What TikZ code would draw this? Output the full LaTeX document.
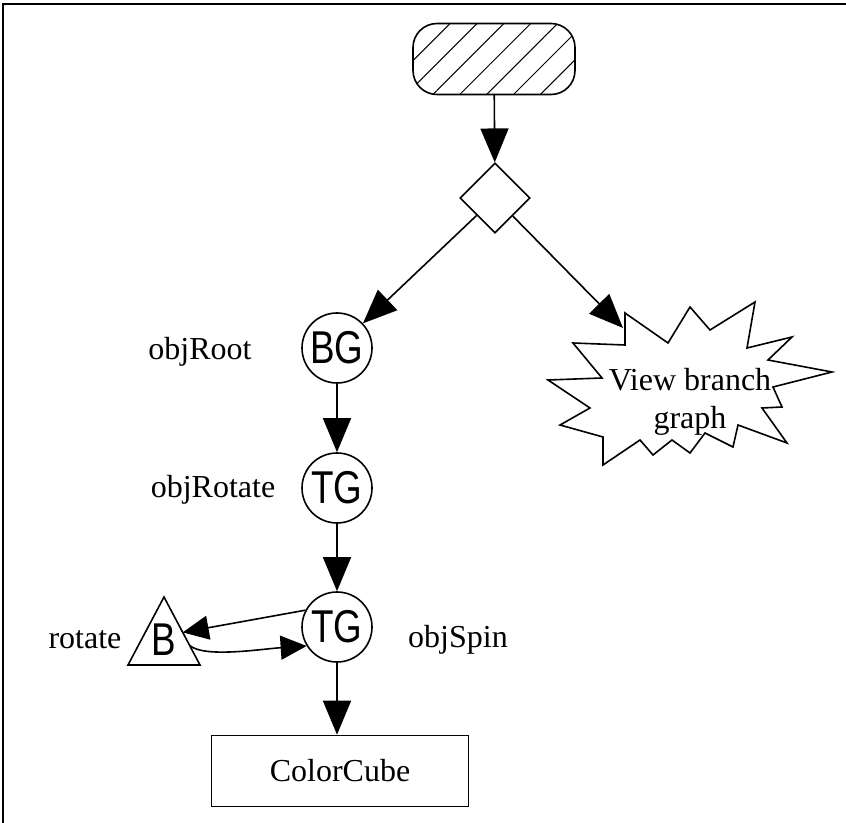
\documentclass[tikz,border=0pt]{standalone}
\usepackage{fontspec}
\setmainfont{Liberation Serif}
\setsansfont{Liberation Sans}
\usetikzlibrary{arrows.meta, shapes.geometric, patterns.meta, calc}

\newcommand{\sqz}[1]{\scalebox{0.8}[1]{#1}}

\tikzset{
  lbl/.style={font=\fontsize{16}{19}\selectfont},
  grp/.style={circle, draw, minimum size=35pt, inner sep=0pt, font=\fontsize{23}{25}\sffamily},
  startbox/.style={rectangle, draw, rounded corners=12pt, minimum width=81pt, minimum height=35.5pt,
    pattern={Lines[angle=45, distance=9.5pt, line width=0.5pt]}},
  decision/.style={diamond, draw, minimum width=35pt, minimum height=35pt, inner sep=0pt},
  shapebox/.style={rectangle, draw, minimum width=128.5pt, minimum height=35.5pt, font=\fontsize{16}{19}\selectfont},
  arr/.style={-{Triangle[length=17pt, width=14pt]}},
  smallarr/.style={-{Triangle[length=13pt, width=12pt]}}
}

\begin{document}
\begin{tikzpicture}[x=0.5pt, y=-0.5pt, line width=0.8pt]
  \useasboundingbox (0,0) rectangle (846,823);
  \draw (3,823) -- (3,4) -- (846,4);

  % scene graph
  \node[startbox] (start) at (494,59) {};
  \node[decision] (dec) at (495,198) {};
  \node[grp] (root) at (337,348) {\sqz{BG}};
  \node[grp] (rot) at (337,488) {\sqz{TG}};
  \node[grp] (spin) at (337,627) {\sqz{TG}};
  \node[shapebox] (cube) at (340,771) {ColorCube};

  \node[lbl] (rootlbl) at (200,352) {objRoot};
  \node[lbl] (rotlbl) at (213,490) {objRotate};
  \node[lbl] (spinlbl) at (458,640) {objSpin};
  \node[lbl] (behlbl) at (85,640) {rotate};

  % behavior triangle
  \coordinate (btop) at (164,597);
  \coordinate (bleft) at (128,665);
  \coordinate (bright) at (200,665);
  \draw (btop) -- (bleft) -- (bright) -- cycle;
  \node[font=\fontsize{23}{25}\sffamily] (beh) at (164,640) {\sqz{B}};
  \coordinate (bin) at ($(btop)!0.52!(bright)$);
  \coordinate (bout) at ($(btop)!0.71!(bright)$);

  % view branch
  \draw (625,313) -- (668,343) -- (690,307) -- (710,330) -- (755,302) -- (747,348)
    -- (792,337) -- (768,360) -- (832,372) -- (773,387) -- (782,407) -- (762,408)
    -- (787,443) -- (738,425) -- (733,447) -- (705,433) -- (690,453) -- (672,440)
    -- (653,455) -- (640,440) -- (603,465) -- (603,437) -- (560,425) -- (590,408)
    -- (548,380) -- (602,378) -- (573,343) -- (625,345) -- cycle;
  \node[lbl, align=center] (view) at (690,402) {View branch\\graph};
  \coordinate (vhit) at (623,328);

  \draw[arr] (start) -- (dec);
  \draw[arr] (dec) -- (root);
  \draw[arr] (dec) -- (vhit);
  \draw[arr] (root) -- (rot);
  \draw[arr] (rot) -- (spin);
  \draw[arr] (spin) -- (spin |- cube.north);
  \draw[smallarr] (spin.152) -- (bin);
  \draw[smallarr] (bout) .. controls +(14,13) and +(-45,3) .. (spin.212);
\end{tikzpicture}
\end{document}
